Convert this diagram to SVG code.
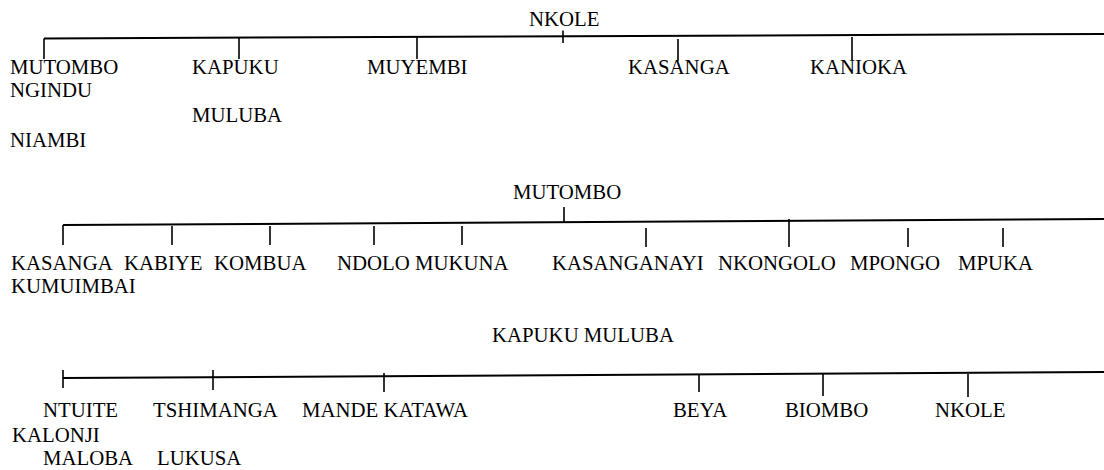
<svg xmlns="http://www.w3.org/2000/svg" width="1104" height="470" viewBox="0 0 1104 470">
<rect width="1104" height="470" fill="#ffffff"/>
<g id="connectors" stroke="#000" fill="none">
<line stroke-width="2" x1="44" y1="38.5" x2="1104" y2="34"/>
<line stroke-width="1.6" x1="44" y1="38.5" x2="44" y2="59"/>
<line stroke-width="1.6" x1="239" y1="38" x2="239" y2="59"/>
<line stroke-width="1.6" x1="417" y1="37" x2="417" y2="59"/>
<line stroke-width="1.6" x1="563" y1="30.5" x2="563" y2="43"/>
<line stroke-width="1.6" x1="678" y1="39" x2="678" y2="61"/>
<line stroke-width="1.6" x1="852" y1="37" x2="852" y2="60"/>
<line stroke-width="2" x1="63" y1="225" x2="1104" y2="219"/>
<line stroke-width="1.6" x1="63" y1="225" x2="63" y2="245"/>
<line stroke-width="1.6" x1="172" y1="226" x2="172" y2="245"/>
<line stroke-width="1.6" x1="270" y1="226" x2="270" y2="245"/>
<line stroke-width="1.6" x1="374" y1="226" x2="374" y2="245"/>
<line stroke-width="1.6" x1="462" y1="226" x2="462" y2="245"/>
<line stroke-width="1.6" x1="564" y1="207" x2="564" y2="223"/>
<line stroke-width="1.6" x1="646" y1="228" x2="646" y2="247"/>
<line stroke-width="1.6" x1="789" y1="219" x2="789" y2="247"/>
<line stroke-width="1.6" x1="908" y1="228" x2="908" y2="247"/>
<line stroke-width="1.6" x1="1003" y1="228" x2="1003" y2="247"/>
<line stroke-width="2" x1="63" y1="378" x2="1104" y2="372"/>
<line stroke-width="1.6" x1="63" y1="370" x2="63" y2="388"/>
<line stroke-width="1.6" x1="213" y1="370" x2="213" y2="390"/>
<line stroke-width="1.6" x1="384" y1="373" x2="384" y2="392"/>
<line stroke-width="1.6" x1="699" y1="374" x2="699" y2="392"/>
<line stroke-width="1.6" x1="823" y1="373" x2="823" y2="396"/>
<line stroke-width="1.6" x1="968" y1="374" x2="968" y2="397"/>
</g>
<g id="n-nkole"><text font-family="'Times New Roman', 'Liberation Serif', serif" font-size="20.8" x="529" y="25.5">NKOLE</text></g>
<g id="n-mutombo1"><text font-family="'Times New Roman', 'Liberation Serif', serif" font-size="20.8" x="10" y="74">MUTOMBO</text><text font-family="'Times New Roman', 'Liberation Serif', serif" font-size="20.8" x="10" y="97">NGINDU</text><text font-family="'Times New Roman', 'Liberation Serif', serif" font-size="20.8" x="10" y="146.5">NIAMBI</text></g>
<g id="n-kapuku1"><text font-family="'Times New Roman', 'Liberation Serif', serif" font-size="20.8" x="192" y="74">KAPUKU</text><text font-family="'Times New Roman', 'Liberation Serif', serif" font-size="20.8" x="192" y="121.5">MULUBA</text></g>
<g id="n-muyembi"><text font-family="'Times New Roman', 'Liberation Serif', serif" font-size="20.8" x="367" y="74">MUYEMBI</text></g>
<g id="n-kasanga1"><text font-family="'Times New Roman', 'Liberation Serif', serif" font-size="20.8" x="628" y="74">KASANGA</text></g>
<g id="n-kanioka"><text font-family="'Times New Roman', 'Liberation Serif', serif" font-size="20.8" x="810" y="74">KANIOKA</text></g>
<g id="n-mutombo2"><text font-family="'Times New Roman', 'Liberation Serif', serif" font-size="20.8" x="513" y="199">MUTOMBO</text></g>
<g id="n-kasanga2"><text font-family="'Times New Roman', 'Liberation Serif', serif" font-size="20.8" x="11" y="270">KASANGA</text><text font-family="'Times New Roman', 'Liberation Serif', serif" font-size="20.8" x="11" y="293">KUMUIMBAI</text></g>
<g id="n-kabiye"><text font-family="'Times New Roman', 'Liberation Serif', serif" font-size="20.8" x="124" y="270">KABIYE</text></g>
<g id="n-kombua"><text font-family="'Times New Roman', 'Liberation Serif', serif" font-size="20.8" x="214" y="270">KOMBUA</text></g>
<g id="n-ndolo"><text font-family="'Times New Roman', 'Liberation Serif', serif" font-size="20.8" x="337" y="270">NDOLO</text></g>
<g id="n-mukuna"><text font-family="'Times New Roman', 'Liberation Serif', serif" font-size="20.8" x="415" y="270">MUKUNA</text></g>
<g id="n-kasanganayi"><text font-family="'Times New Roman', 'Liberation Serif', serif" font-size="20.8" x="552" y="270">KASANGANAYI</text></g>
<g id="n-nkongolo"><text font-family="'Times New Roman', 'Liberation Serif', serif" font-size="20.8" x="718" y="270">NKONGOLO</text></g>
<g id="n-mpongo"><text font-family="'Times New Roman', 'Liberation Serif', serif" font-size="20.8" x="850" y="270">MPONGO</text></g>
<g id="n-mpuka"><text font-family="'Times New Roman', 'Liberation Serif', serif" font-size="20.8" x="958" y="270">MPUKA</text></g>
<g id="n-kapukumuluba"><text font-family="'Times New Roman', 'Liberation Serif', serif" font-size="20.8" x="492" y="342">KAPUKU MULUBA</text></g>
<g id="n-ntuite"><text font-family="'Times New Roman', 'Liberation Serif', serif" font-size="20.8" x="43" y="417">NTUITE</text><text font-family="'Times New Roman', 'Liberation Serif', serif" font-size="20.8" x="12" y="441.5">KALONJI</text><text font-family="'Times New Roman', 'Liberation Serif', serif" font-size="20.8" x="43" y="465">MALOBA</text></g>
<g id="n-tshimanga"><text font-family="'Times New Roman', 'Liberation Serif', serif" font-size="20.8" x="153" y="417">TSHIMANGA</text><text font-family="'Times New Roman', 'Liberation Serif', serif" font-size="20.8" x="157" y="465">LUKUSA</text></g>
<g id="n-mande"><text font-family="'Times New Roman', 'Liberation Serif', serif" font-size="20.8" x="302" y="417">MANDE KATAWA</text></g>
<g id="n-beya"><text font-family="'Times New Roman', 'Liberation Serif', serif" font-size="20.8" x="673" y="417">BEYA</text></g>
<g id="n-biombo"><text font-family="'Times New Roman', 'Liberation Serif', serif" font-size="20.8" x="785" y="417">BIOMBO</text></g>
<g id="n-nkole2"><text font-family="'Times New Roman', 'Liberation Serif', serif" font-size="20.8" x="935" y="417">NKOLE</text></g>
</svg>
